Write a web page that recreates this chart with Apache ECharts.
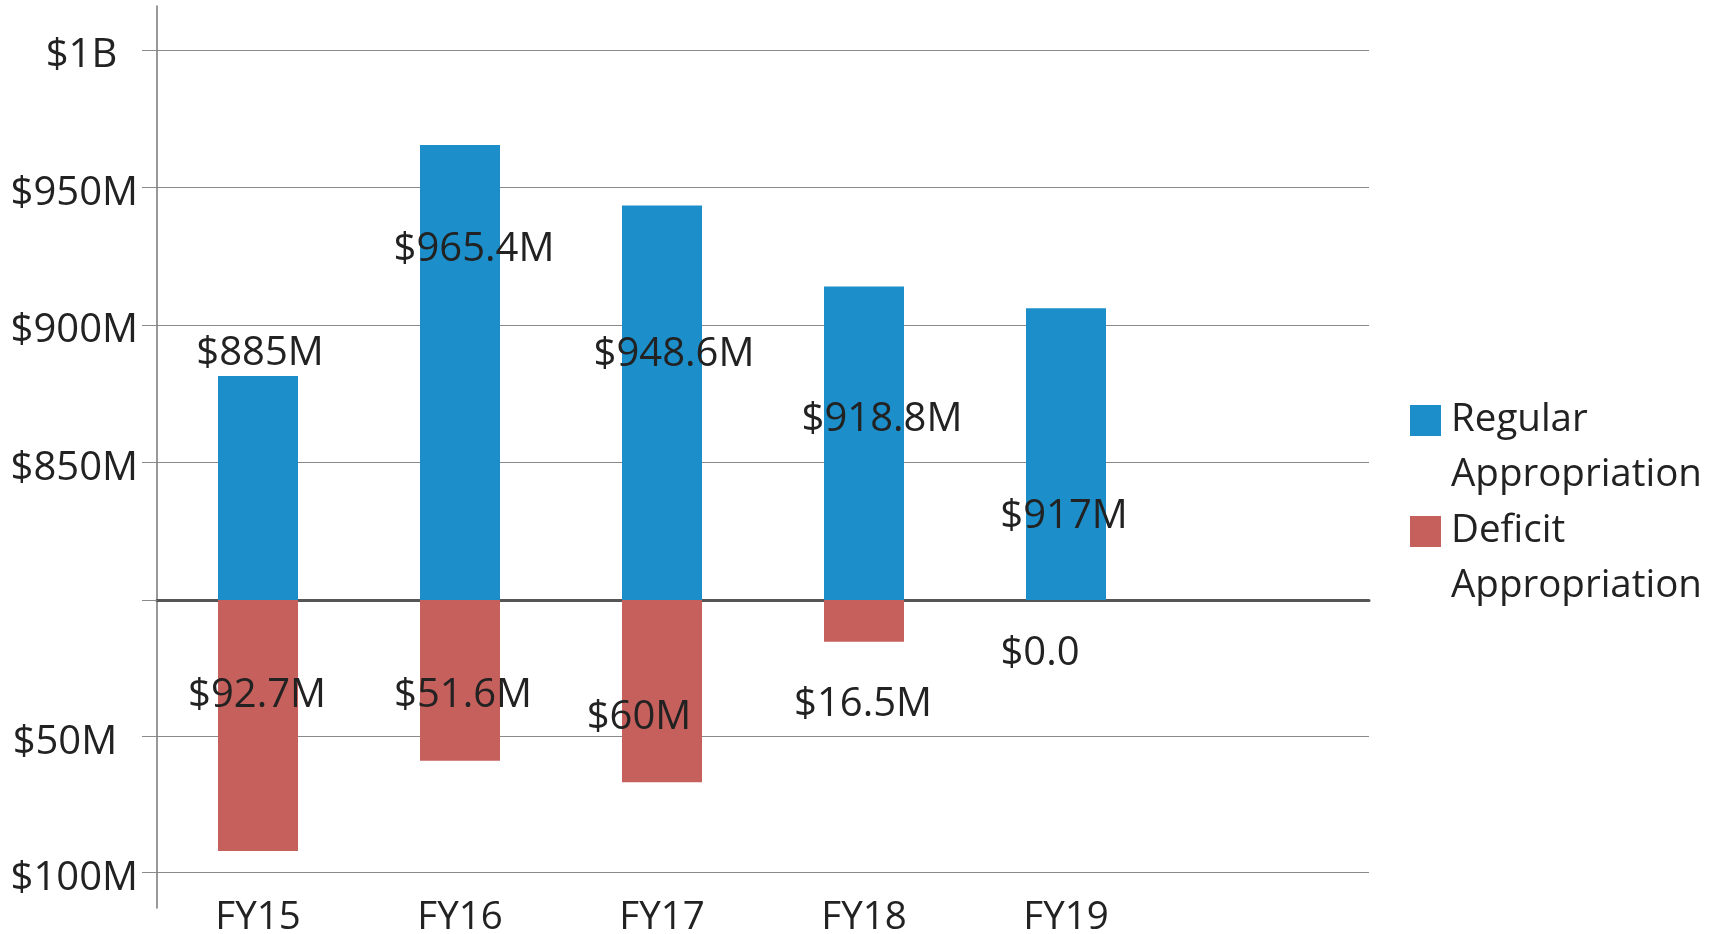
<!DOCTYPE html>
<html><head><meta charset="utf-8">
<script src="https://cdn.jsdelivr.net/npm/echarts@6/dist/echarts.min.js"></script>
<style>html,body{margin:0;padding:0;background:#fff}#c{width:1719px;height:934px}</style>
</head><body><div id="c"></div>
<script>
// ---- data ----
const categories = ['FY15', 'FY16', 'FY17', 'FY18', 'FY19', ''];
const regularValues = [881.5, 965.5, 943.5, 914.0, 906.1];
const deficitValues = [92.2, 59.0, 66.9, 15.3, 0];
const regularLabels = ['$885M', '$965.4M', '$948.6M', '$918.8M', '$917M'];
const deficitLabels = ['$92.7M', '$51.6M', '$60M', '$16.5M', '$0.0'];
const upperTickValues = [850, 900, 950, 1000];
const upperTickLabels = ['$850M', '$900M', '$950M', '$1B  '];
const lowerTickValues = [50, 100];
const lowerTickLabels = ['$50M  ', '$100M'];
const seriesNames = ['Regular Appropriation', 'Deficit Appropriation'];

// ---- layout / style ----
const regularLabelOffsets = [[2, -22], [14, 105], [12, 149], [18, 133], [-2, 208]];
const deficitLabelOffsets = [[-1, 96], [3, 96], [-23, 118], [-1, 105], [-26, 54]];
const FONT = 'Open Sans';
const NUM_SIZE = 40;
const WORD_SIZE = 38.5;
const TEXT = '#222222';
const GRID_C = '#8a8a8a';
const AXIS_C = '#777777';
const BLUE = '#1c8fcb';
const RED = '#c6605d';

const chart = echarts.init(document.getElementById('c'), null, {renderer: 'canvas'});

function labelFmt(vals, labs) {
  return function (v) { const i = vals.indexOf(Number(v)); return i >= 0 ? labs[i] : ''; };
}
const legendText = {
  fontFamily: FONT, fontSize: WORD_SIZE, lineHeight: 55, color: TEXT,
  padding: [0, 0, 0, 5], backgroundColor: 'rgba(0,0,0,0)'
};
function legendOf(name, top) {
  return {
    data: [name], left: 1410, top: top, orient: 'vertical', padding: 0,
    itemWidth: 31, itemHeight: 31, icon: 'rect', selectedMode: false,
    // empty first line so that the icon lines up with the first word
    formatter: n => '\n' + n.replace(' ', '\n'), textStyle: legendText
  };
}
const yLabelStyle = {
  color: TEXT, fontFamily: FONT, fontSize: NUM_SIZE, margin: 19,
  verticalAlign: 'top', lineHeight: 12
};

chart.setOption({
  animation: false,
  backgroundColor: '#ffffff',
  textStyle: {fontFamily: FONT},
  legend: [legendOf(seriesNames[0], 338), legendOf(seriesNames[1], 449)],
  grid: [
    {left: 157, right: 350, top: 6, height: 594, outerBoundsMode: 'none', containLabel: false},
    {left: 157, right: 350, top: 600, height: 308, outerBoundsMode: 'none', containLabel: false}
  ],
  xAxis: [
    {type: 'category', gridIndex: 0, data: categories, position: 'bottom',
     axisLine: {show: true, onZero: false, lineStyle: {color: '#555555', width: 3}},
     axisTick: {show: false}, axisLabel: {show: false}, splitLine: {show: false}},
    {type: 'category', gridIndex: 1, data: categories, position: 'bottom',
     axisLine: {show: false, onZero: false}, axisTick: {show: false}, splitLine: {show: false},
     axisLabel: {show: true, color: TEXT, fontFamily: FONT, fontSize: WORD_SIZE, lineHeight: 38,
                 verticalAlign: 'middle', margin: 10, interval: 0}}
  ],
  yAxis: [
    {type: 'value', gridIndex: 0, min: 800, max: 1016,
     axisLine: {show: true, lineStyle: {color: AXIS_C, width: 1.5}},
     axisTick: {show: true, length: 15, customValues: [800].concat(upperTickValues), lineStyle: {color: GRID_C, width: 1}},
     axisLabel: Object.assign({show: true, customValues: upperTickValues,
                 formatter: labelFmt(upperTickValues, upperTickLabels)}, yLabelStyle),
     splitLine: {show: true, lineStyle: {color: GRID_C, width: 1}}},
    {type: 'value', gridIndex: 1, min: 0, max: 113.1, inverse: true,
     axisLine: {show: true, lineStyle: {color: AXIS_C, width: 1.5}},
     axisTick: {show: true, length: 15, customValues: lowerTickValues, lineStyle: {color: GRID_C, width: 1}},
     axisLabel: Object.assign({show: true, customValues: lowerTickValues,
                 formatter: labelFmt(lowerTickValues, lowerTickLabels)}, yLabelStyle),
     splitLine: {show: true, lineStyle: {color: GRID_C, width: 1}}}
  ],
  series: [
    {name: seriesNames[0], type: 'bar', xAxisIndex: 0, yAxisIndex: 0, barWidth: 80,
     itemStyle: {color: BLUE}, z: 3,
     label: {show: true, position: ['50%', 0], align: 'center', verticalAlign: 'middle',
             color: TEXT, fontFamily: FONT, fontSize: NUM_SIZE},
     data: regularValues.map((v, i) => ({value: v, label: {offset: regularLabelOffsets[i], formatter: regularLabels[i]}}))},
    {name: seriesNames[1], type: 'bar', xAxisIndex: 1, yAxisIndex: 1, barWidth: 80,
     itemStyle: {color: RED}, z: 3,
     label: {show: true, position: ['50%', 0], align: 'center', verticalAlign: 'middle',
             color: TEXT, fontFamily: FONT, fontSize: NUM_SIZE},
     data: deficitValues.map((v, i) => ({value: v, label: {offset: deficitLabelOffsets[i], formatter: deficitLabels[i]}}))}
  ]
});
</script></body></html>
